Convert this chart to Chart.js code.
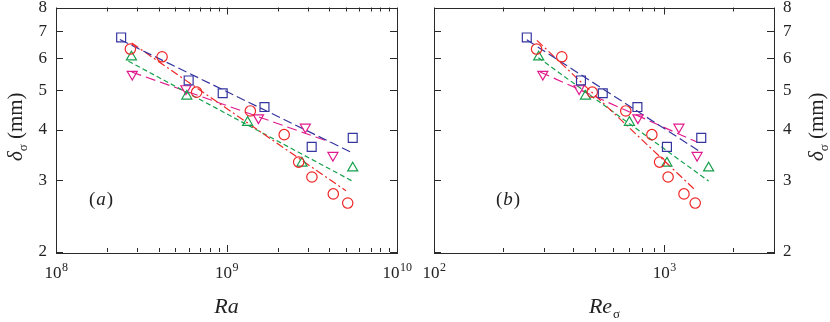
<!DOCTYPE html>
<html>
<head>
<meta charset="utf-8">
<script src="https://cdn.jsdelivr.net/npm/chart.js@4.4.0/dist/chart.umd.min.js"></script>
<style>
  body { margin: 0; background: #fff; }
  #wrap { position: relative; width: 830px; height: 322px; }
  .box { position: absolute; top: 0; width: 415px; height: 322px; }
</style>
</head>
<body>
<div id="wrap">
  <div class="box" style="left:0"><canvas id="chartA"></canvas></div>
  <div class="box" style="left:415px"><canvas id="chartB"></canvas></div>
</div>
<script>
"use strict";

// boundary layer thickness, same for both panels (mm)
const deltaSquare = [6.75, 5.29, 4.92, 4.55, 3.63, 3.82];
const deltaCircle = [6.32, 6.05, 4.95, 4.45, 3.89, 3.33, 3.06, 2.78, 2.64];
const deltaUp = [6.04, 4.84, 4.17, 3.31, 3.22];
const deltaDown = [5.48, 5.05, 4.28, 4.06, 3.46];

// panel (a): Ra
const raSquare = [2.41e8, 6.0e8, 9.5e8, 1.67e9, 3.16e9, 5.5e9];
const raCircle = [2.73e8, 4.19e8, 6.68e8, 1.38e9, 2.18e9, 2.65e9, 3.17e9, 4.23e9, 5.14e9];
const raUp = [2.77e8, 5.85e8, 1.33e9, 2.77e9, 5.5e9];
const raDown = [2.8e8, 5.78e8, 1.54e9, 2.9e9, 4.21e9];

// panel (b): Re_sigma
const reSquare = [253, 435, 541, 765, 1028, 1449];
const reCircle = [279, 359, 487, 681, 884, 955, 1040, 1219, 1364];
const reUp = [285, 455, 706, 1028, 1560];
const reDown = [297, 427, 769, 1159, 1390];

// fitted power laws (end points)
const fitRaSquare = [2.37e8, 5.55e9], fitDSquareA = [6.67, 3.50];
const fitRaCircle = [2.78e8, 5.02e9], fitDCircleA = [6.54, 2.83];
const fitRaUp = [2.66e8, 5.55e9], fitDUpA = [5.90, 2.98];
const fitRaDown = [2.78e8, 4.05e9], fitDDownA = [5.55, 3.73];

const fitReSquare = [253, 1435], fitDSquareB = [6.66, 3.53];
const fitReCircle = [280, 1365], fitDCircleB = [6.64, 2.84];
const fitReUp = [284, 1560], fitDUpB = [6.02, 2.99];
const fitReDown = [289, 1387], fitDDownB = [5.55, 3.73];

// ticks
const yTicks = [2, 3, 4, 5, 6, 7, 8];
const raTicks = [1e8, 2e8, 3e8, 4e8, 5e8, 6e8, 7e8, 8e8, 9e8, 1e9, 2e9, 3e9, 4e9, 5e9, 6e9, 7e9, 8e9, 9e9, 1e10];
const reTicks = [100, 200, 300, 400, 500, 600, 700, 800, 900, 1000, 2000, 3000];

const BLUE = "#3535a0";
const RED = "#ee2626";
const GREEN = "#14a04c";
const MAGENTA = "#e01a8c";
const SERIF = "'Liberation Serif', 'Times New Roman', serif";

function pts(xs, ys) {
  return xs.map((x, i) => ({ x: x, y: ys[i] }));
}

function isDecade(v) {
  const l = Math.log10(v);
  return Math.abs(l - Math.round(l)) < 1e-9;
}

function markers(xs, ys, color, style, rot, r) {
  return {
    data: pts(xs, ys),
    showLine: false,
    pointStyle: style,
    rotation: rot,
    pointRadius: r,
    pointBorderColor: color,
    pointBackgroundColor: "rgba(0,0,0,0)",
    pointBorderWidth: 1.2,
    order: 1
  };
}

function fit(xs, ys, color, dash) {
  return {
    data: pts(xs, ys),
    showLine: true,
    borderColor: color,
    borderWidth: 1.2,
    borderDash: dash,
    pointRadius: 0,
    order: 2
  };
}

// frame, inward ticks, x labels and titles
const decorPlugin = {
  id: "decor",
  beforeDatasetsDraw(chart) {
    const ctx = chart.ctx;
    const a = chart.chartArea;
    const xs = chart.scales.x;
    const ys = chart.scales.y;
    ctx.save();
    ctx.strokeStyle = "#2a2a2a";
    ctx.lineWidth = 1;
    ctx.strokeRect(Math.round(a.left) + 0.5, Math.round(a.top) + 0.5,
      Math.round(a.right - a.left), Math.round(a.bottom - a.top));
    ctx.beginPath();
    xs.ticks.forEach(t => {
      const px = Math.round(xs.getPixelForValue(t.value)) + 0.5;
      const len = isDecade(t.value) ? 7 : 4;
      ctx.moveTo(px, a.bottom); ctx.lineTo(px, a.bottom - len);
      ctx.moveTo(px, a.top); ctx.lineTo(px, a.top + len);
    });
    ys.ticks.forEach(t => {
      const py = Math.round(ys.getPixelForValue(t.value)) + 0.5;
      ctx.moveTo(a.left, py); ctx.lineTo(a.left + 7, py);
      ctx.moveTo(a.right, py); ctx.lineTo(a.right - 7, py);
    });
    ctx.stroke();
    ctx.restore();
  },
  afterDraw(chart, args, opts) {
    const ctx = chart.ctx;
    const a = chart.chartArea;
    const xs = chart.scales.x;
    ctx.save();
    ctx.fillStyle = "#222";
    ctx.textBaseline = "alphabetic";

    // decade labels as 10^n
    xs.ticks.forEach(t => {
      if (!isDecade(t.value)) return;
      const px = xs.getPixelForValue(t.value);
      const e = String(Math.round(Math.log10(t.value)));
      ctx.font = "17px " + SERIF;
      const w1 = ctx.measureText("10").width;
      ctx.font = "12px " + SERIF;
      const w2 = ctx.measureText(e).width;
      const x0 = px - (w1 + w2) / 2;
      ctx.font = "17px " + SERIF;
      ctx.textAlign = "left";
      ctx.fillText("10", x0, a.bottom + 26);
      ctx.font = "12px " + SERIF;
      ctx.fillText(e, x0 + w1 + 0.5, a.bottom + 19);
    });

    // x title
    const cx = (a.left + a.right) / 2;
    ctx.font = "italic 22px " + SERIF;
    const wMain = ctx.measureText(opts.xTitle).width;
    ctx.font = "13px " + SERIF;
    const wSub = opts.xSub ? ctx.measureText(opts.xSub).width : 0;
    const xt = cx - (wMain + wSub) / 2;
    ctx.textAlign = "left";
    ctx.font = "italic 22px " + SERIF;
    ctx.fillText(opts.xTitle, xt, a.bottom + 61);
    if (opts.xSub) {
      ctx.font = "13px " + SERIF;
      ctx.fillText(opts.xSub, xt + wMain + 1, a.bottom + 66);
    }

    // y title, rotated
    ctx.save();
    ctx.translate(opts.yTitleX, (a.top + a.bottom) / 2 - 3);
    ctx.rotate(-Math.PI / 2);
    ctx.font = "italic 21px " + SERIF;
    const wd = ctx.measureText("\u03b4").width;
    ctx.font = "13px " + SERIF;
    const ws = ctx.measureText("\u03c3").width;
    ctx.font = "21px " + SERIF;
    const wr = ctx.measureText(" (mm)").width;
    let u = -(wd + ws + wr) / 2;
    ctx.font = "italic 21px " + SERIF;
    ctx.fillText("\u03b4", u, 0);
    u += wd;
    ctx.font = "13px " + SERIF;
    ctx.fillText("\u03c3", u, 5);
    u += ws;
    ctx.font = "21px " + SERIF;
    ctx.fillText(" (mm)", u, 0);
    ctx.restore();

    // panel label (a)/(b)
    ctx.font = "19px " + SERIF;
    const wp = ctx.measureText("(").width;
    ctx.font = "italic 19px " + SERIF;
    const wl = ctx.measureText(opts.panel).width;
    let lx = opts.panelX - (2 * wp + wl) / 2;
    ctx.font = "19px " + SERIF;
    ctx.fillText("(", lx, opts.panelY);
    ctx.font = "italic 19px " + SERIF;
    ctx.fillText(opts.panel, lx + wp + 1, opts.panelY);
    ctx.font = "19px " + SERIF;
    ctx.fillText(")", lx + wp + wl + 2, opts.panelY);
    ctx.restore();
  }
};

function makePanel(id, side, xMin, xMax, xTickVals, sets, decor, pad) {
  return new Chart(document.getElementById(id), {
    type: "scatter",
    data: { datasets: sets },
    plugins: [decorPlugin],
    options: {
      responsive: true,
      maintainAspectRatio: false,
      animation: false,
      layout: { padding: pad },
      plugins: { legend: { display: false }, tooltip: { enabled: false }, decor: decor },
      scales: {
        x: {
          type: "logarithmic",
          min: xMin,
          max: xMax,
          afterBuildTicks: s => { s.ticks = xTickVals.map(v => ({ value: v })); },
          ticks: { display: false },
          grid: { display: false, drawTicks: false },
          border: { display: false },
          afterFit: s => { s.height = 70; s.paddingLeft = 0; s.paddingRight = 0; }
        },
        y: {
          type: "logarithmic",
          position: side,
          min: 2,
          max: 8,
          afterBuildTicks: s => { s.ticks = yTicks.map(v => ({ value: v })); },
          ticks: {
            autoSkip: false,
            padding: 9,
            color: "#222",
            font: { family: SERIF, size: 17 },
            callback: v => String(v)
          },
          grid: { display: false, drawTicks: false },
          border: { display: false },
          afterFit: s => { s.width = 56; s.paddingTop = 0; s.paddingBottom = 0; }
        }
      }
    }
  });
}

const setsA = [
  fit(fitRaSquare, fitDSquareA, BLUE, [9, 4]),
  fit(fitRaCircle, fitDCircleA, RED, [8, 3, 2, 3]),
  fit(fitRaUp, fitDUpA, GREEN, [5, 3]),
  fit(fitRaDown, fitDDownA, MAGENTA, [10, 5]),
  markers(raSquare, deltaSquare, BLUE, "rect", 0, 6.3),
  markers(raCircle, deltaCircle, RED, "circle", 0, 5.2),
  markers(raUp, deltaUp, GREEN, "triangle", 0, 5.8),
  markers(raDown, deltaDown, MAGENTA, "triangle", 180, 5.8)
];

const setsB = [
  fit(fitReSquare, fitDSquareB, BLUE, [9, 4]),
  fit(fitReCircle, fitDCircleB, RED, [8, 3, 2, 3]),
  fit(fitReUp, fitDUpB, GREEN, [5, 3]),
  fit(fitReDown, fitDDownB, MAGENTA, [10, 5]),
  markers(reSquare, deltaSquare, BLUE, "rect", 0, 6.3),
  markers(reCircle, deltaCircle, RED, "circle", 0, 5.2),
  markers(reUp, deltaUp, GREEN, "triangle", 0, 5.8),
  markers(reDown, deltaDown, MAGENTA, "triangle", 180, 5.8)
];

makePanel("chartA", "left", 1e8, 1e10, raTicks, setsA,
  { xTitle: "Ra", xSub: "", yTitleX: 22, panel: "a", panelX: 100, panelY: 205 },
  { left: 0, right: 18, top: 7, bottom: 0 });

makePanel("chartB", "right", 100, 3000, reTicks, setsB,
  { xTitle: "Re", xSub: "\u03c3", yTitleX: 823 - 415, panel: "b", panelX: 507 - 415, panelY: 205 },
  { left: 19, right: 0, top: 7, bottom: 0 });
</script>
</body>
</html>
